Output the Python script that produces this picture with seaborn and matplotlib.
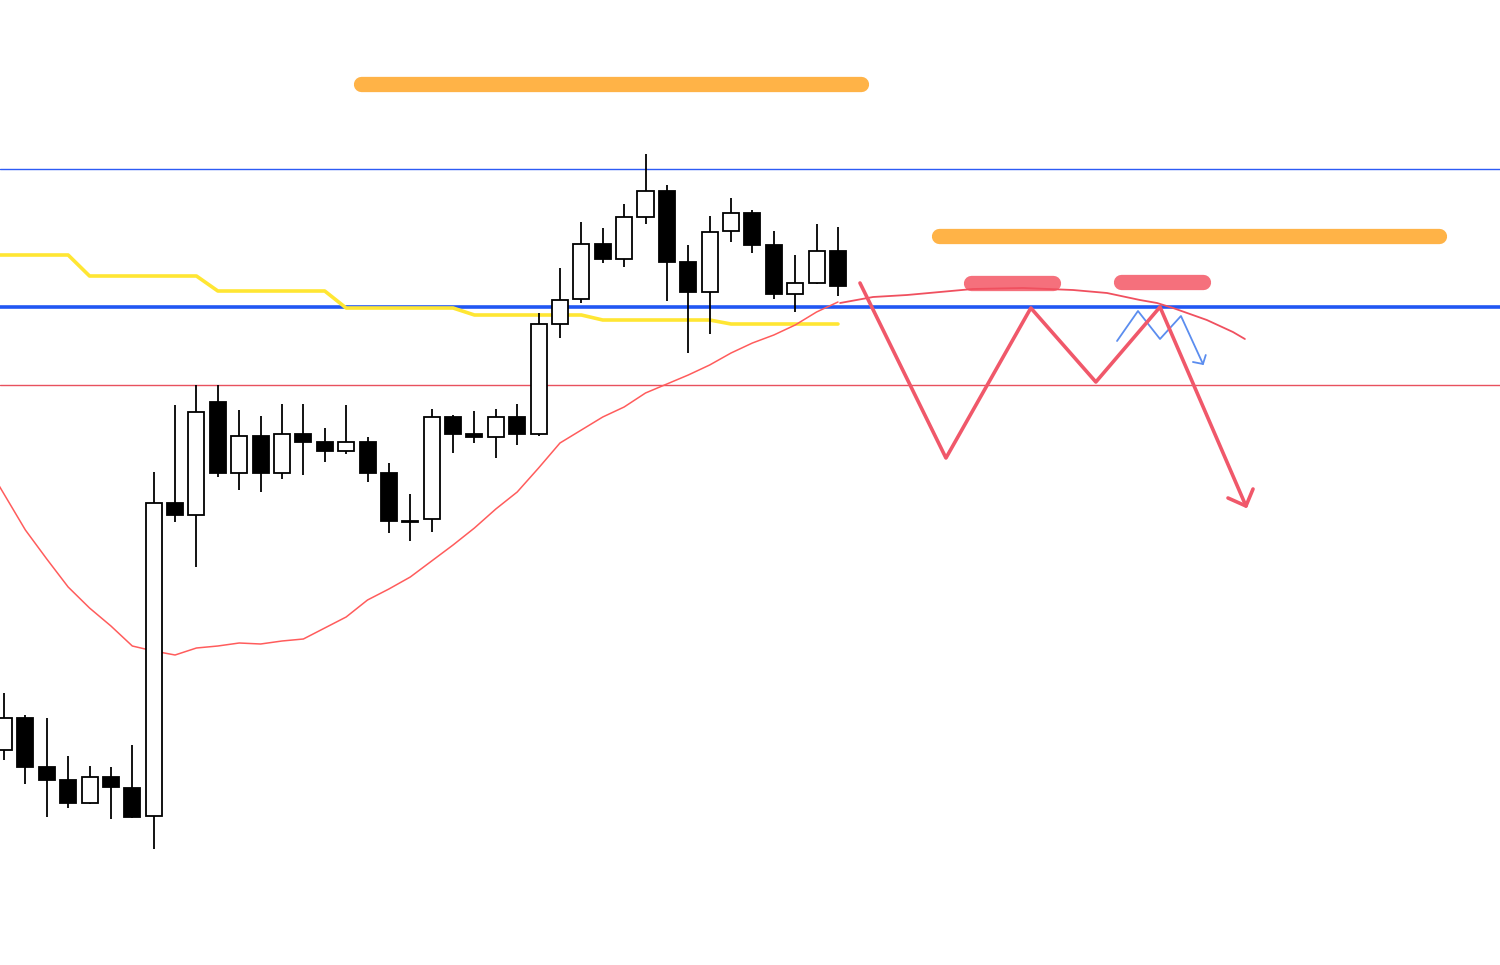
import numpy as np
import pandas as pd
import matplotlib
matplotlib.use("Agg")
import matplotlib.pyplot as plt
import seaborn as sns

# --- candle data (bar index, price in chart units) ---
opens = [215, 247, 198, 185, 162, 188, 177, 149, 462, 450,
         563, 492, 529, 492, 531, 523, 514, 523, 492, 444,
         446, 548, 531, 528, 548, 531, 641, 666, 721, 706,
         748, 774, 703, 673, 734, 752, 720, 671, 682, 714]
highs = [272, 250, 247, 209, 199, 198, 220, 493, 560, 580,
         580, 555, 549, 561, 561, 537, 560, 528, 502, 471,
         556, 550, 554, 556, 561, 652, 697, 743, 737, 761,
         811, 780, 720, 749, 767, 755, 734, 710, 741, 738]
lows = [205, 181, 148, 157, 161, 146, 147, 116, 443, 398,
        488, 475, 473, 486, 490, 503, 511, 483, 432, 424,
        433, 512, 522, 507, 520, 529, 627, 662, 702, 698,
        741, 664, 612, 631, 723, 712, 666, 653, 681, 669]
closes = [247, 198, 185, 162, 188, 178, 148, 462, 450, 553,
          492, 529, 492, 531, 523, 514, 523, 492, 444, 443,
          548, 531, 528, 548, 531, 641, 665, 721, 706, 748,
          774, 703, 673, 733, 752, 720, 671, 682, 714, 679]

# moving averages (index -1 .. 39)
ma_idx = list(range(-1, 40))
red_ma = [507, 471, 435, 406, 378, 357, 339, 319, 314, 310,
          317, 319, 322, 321, 324, 326, 337, 348, 365, 376,
          388, 404, 420, 437, 456, 473, 497, 522, 535, 548,
          558, 572, 581, 590, 600, 612, 622, 630, 640, 653, 663]
yellow_line = [710, 710, 710, 710, 710, 689, 689, 689, 689, 689,
               689, 674, 674, 674, 674, 674, 674, 657, 657, 657,
               657, 657, 657, 650, 650, 650, 650, 650, 650, 645,
               645, 645, 645, 645, 645, 641, 641, 641, 641, 641, 641]

# horizontal levels
upper_level = 796
middle_level = 658
lower_level = 580

# hand-drawn annotations
ma_proj_x = [39.1, 40.64, 42.23, 45.31, 47.65, 49.99, 51.58, 53.12, 53.92, 54.67, 56.25, 57.47, 58.03]
ma_proj_y = [662, 668, 670, 676, 677, 675, 672, 665, 662, 657, 645, 633, 626]

zigzag_x = [40.03, 44.05, 48.02, 51.06, 54.06, 58.08]
zigzag_y = [682, 507, 657, 583, 658, 459]
zz_head_x = [57.24, 58.08, 58.41]
zz_head_y = [467, 459, 476]

small_x = [52.05, 53.03, 54.06, 55.04, 56.07]
small_y = [624, 654, 626, 649, 601]
small_head_x = [55.6, 56.07, 56.2]
small_head_y = [603, 601, 610]

orange_bars = [(16.69, 40.07, 881), (43.72, 67.10, 729)]
pink_bars = [(45.22, 49.05, 682), (52.23, 56.07, 683)]

df = pd.DataFrame({"open": opens, "high": highs, "low": lows, "close": closes})
df["idx"] = np.arange(len(df))
ma_df = pd.DataFrame({"idx": ma_idx, "red": red_ma, "yellow": yellow_line})

sns.set_theme(style="white")
fig = plt.figure(figsize=(15, 9.65), dpi=100)
ax = fig.add_axes([0, 0, 1, 1])

# levels
ax.axhline(upper_level, color="#2d5bf5", lw=1, zorder=1)
ax.axhline(middle_level, color="#2157f3", lw=2.6, zorder=1)
ax.axhline(lower_level, color="#e8515e", lw=1, zorder=1)

# moving averages
sns.lineplot(data=ma_df, x="idx", y="yellow", color="#ffe633", lw=2.6, ax=ax, zorder=2)
sns.lineplot(data=ma_df, x="idx", y="red", color="#ff5c5c", lw=1.1, ax=ax, zorder=2)

# candles
ax.vlines(df["idx"], df["low"], df["high"], color="black", lw=1.3, zorder=3)
up = df[df["close"] >= df["open"]]
dn = df[df["close"] < df["open"]]
ax.bar(up["idx"], (up["close"] - up["open"]).clip(lower=1.5), bottom=up["open"],
       width=0.75, color="white", edgecolor="black", lw=1.3, zorder=4)
ax.bar(dn["idx"], (dn["open"] - dn["close"]).clip(lower=1.5), bottom=dn["close"],
       width=0.75, color="black", edgecolor="black", lw=1.3, zorder=4)

# annotations
for x0, x1, y in orange_bars:
    ax.plot([x0, x1], [y, y], color="#ffb347", lw=11, solid_capstyle="round", zorder=5)
for x0, x1, y in pink_bars:
    ax.plot([x0, x1], [y, y], color="#f5707c", lw=11, solid_capstyle="round", zorder=5)

ax.plot(ma_proj_x, ma_proj_y, color="#f0505f", lw=1.3, zorder=5)
ax.plot(small_x, small_y, color="#5b8def", lw=1.3, zorder=6)
ax.plot(small_head_x, small_head_y, color="#5b8def", lw=1.3, zorder=6)
ax.plot(zigzag_x, zigzag_y, color="#f0586a", lw=2.6, zorder=7)
ax.plot(zz_head_x, zz_head_y, color="#f0586a", lw=2.6, zorder=7)

ax.set_xlim(-0.187, 69.96)
ax.set_ylim(0, 965)
ax.set_axis_off()

fig.savefig("out.png", dpi=100)
